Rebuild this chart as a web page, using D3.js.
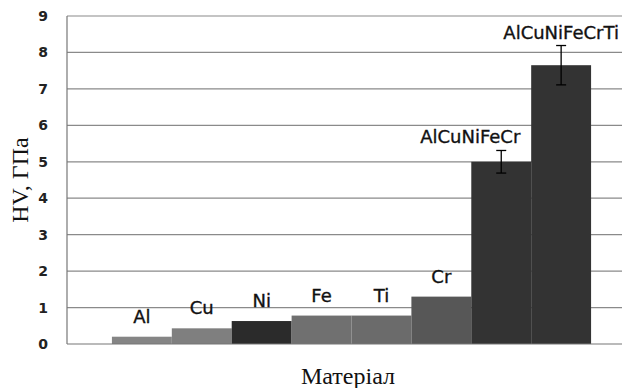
<!DOCTYPE html>
<html>
<head>
<meta charset="utf-8">
<script src="https://cdn.jsdelivr.net/npm/d3@7"></script>
<style>
  body { margin: 0; background: #fff; }
  svg { display: block; }
</style>
</head>
<body>
<svg id="chart" width="622" height="388"></svg>
<script>
const categories = ["Al", "Cu", "Ni", "Fe", "Ti", "Cr", "AlCuNiFeCr", "AlCuNiFeCrTi"];
const values = [0.2, 0.43, 0.63, 0.78, 0.78, 1.3, 5.0, 7.65];
const errors = [0, 0, 0, 0, 0, 0, 0.31, 0.54];
const colors = ["#858585", "#7f7f7f", "#2b2b2b", "#707070", "#6b6b6b", "#575757", "#333333", "#333333"];
const yTicks = [0, 1, 2, 3, 4, 5, 6, 7, 8, 9];
const yTitle = "HV, ГПа";
const xTitle = "Матеріал";

const svg = d3.select("#chart");
const plot = { left: 67, right: 636, top: 16, bottom: 344 };

const y = d3.scaleLinear().domain([0, 9]).range([plot.bottom, plot.top]);
const x = d3.scaleBand().domain(categories)
  .range([plot.left, plot.right])
  .paddingInner(0).paddingOuter(0.75);

// gridlines
svg.append("g").selectAll("line").data(yTicks.filter(d => d > 0)).join("line")
  .attr("x1", plot.left).attr("x2", plot.right)
  .attr("y1", d => y(d)).attr("y2", d => y(d))
  .attr("stroke", "#8a8a8a").attr("stroke-width", 1.2);

// bars
svg.append("g").selectAll("rect").data(categories).join("rect")
  .attr("x", d => x(d))
  .attr("width", x.bandwidth())
  .attr("y", (d, i) => y(values[i]))
  .attr("height", (d, i) => y(0) - y(values[i]))
  .attr("fill", (d, i) => colors[i]);

// axis lines
svg.append("line").attr("x1", plot.left).attr("x2", plot.left)
  .attr("y1", plot.top).attr("y2", plot.bottom)
  .attr("stroke", "#777").attr("stroke-width", 1.2);
svg.append("line").attr("x1", plot.left).attr("x2", plot.right)
  .attr("y1", plot.bottom).attr("y2", plot.bottom)
  .attr("stroke", "#777").attr("stroke-width", 1.2);

// y axis tick labels
const yAxis = d3.axisLeft(y).tickValues(yTicks).tickSize(0).tickPadding(0).tickFormat(d3.format("d"));
const ga = svg.append("g").attr("transform", `translate(48,0)`).call(yAxis);
ga.select(".domain").remove();
ga.selectAll("text")
  .attr("text-anchor", "end")
  .style("font-family", "'DejaVu Sans', sans-serif")
  .style("font-size", "14px")
  .style("font-weight", "bold")
  .attr("fill", "#222");

// error bars
const eg = svg.append("g");
categories.forEach((c, i) => {
  if (!errors[i]) return;
  const cx = x(c) + x.bandwidth() / 2;
  const y1 = y(values[i] + errors[i]), y2 = y(values[i] - errors[i]);
  eg.append("line").attr("x1", cx).attr("x2", cx).attr("y1", y1).attr("y2", y2)
    .attr("stroke", "#000").attr("stroke-width", 1.3);
  [y1, y2].forEach(yy => eg.append("line").attr("x1", cx - 5).attr("x2", cx + 5)
    .attr("y1", yy).attr("y2", yy).attr("stroke", "#000").attr("stroke-width", 1.3));
});

// data labels
svg.append("g").selectAll("text").data(categories).join("text")
  .attr("x", (d, i) => x(d) + x.bandwidth() / 2 + (i === 6 ? -31 : 0))
  .attr("y", (d, i) => errors[i] ? y(values[i] + errors[i]) - 7 : y(values[i]) - 14)
  .attr("text-anchor", "middle")
  .style("font-family", "'DejaVu Sans', sans-serif")
  .style("font-size", "18px")
  .attr("fill", "#111")
  .attr("stroke", "#111")
  .attr("stroke-width", 0.35)
  .text(d => d);

// axis titles
svg.append("text")
  .attr("transform", `translate(28,180) rotate(-90)`)
  .attr("text-anchor", "middle")
  .style("font-family", "'Liberation Serif', 'Times New Roman', serif")
  .style("font-size", "24px")
  .attr("fill", "#111")
  .text(yTitle);

svg.append("text")
  .attr("x", 348).attr("y", 384)
  .attr("text-anchor", "middle")
  .style("font-family", "'Liberation Serif', 'Times New Roman', serif")
  .style("font-size", "24px")
  .attr("fill", "#111")
  .text(xTitle);
</script>
</body>
</html>
